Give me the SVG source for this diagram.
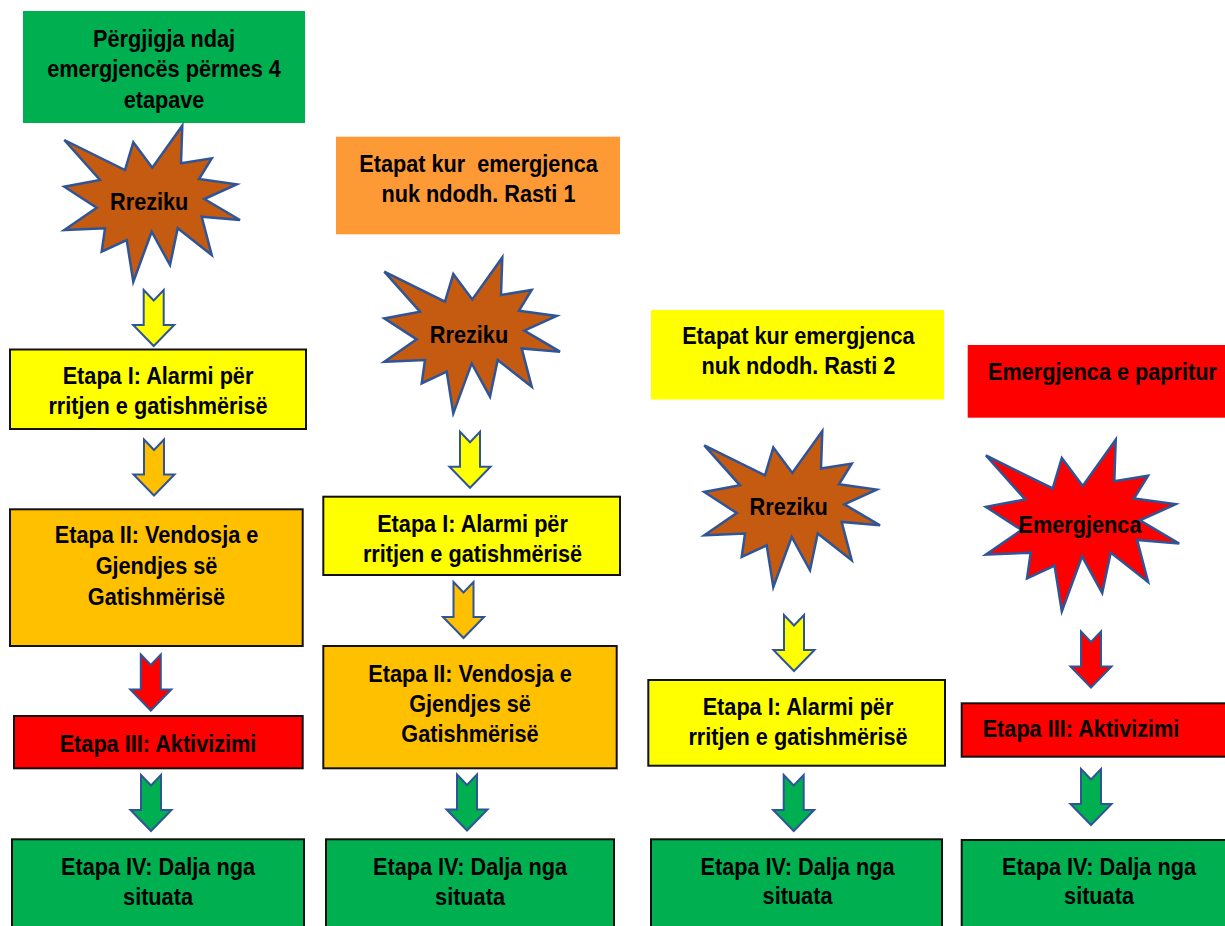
<svg xmlns="http://www.w3.org/2000/svg" xmlns:xlink="http://www.w3.org/1999/xlink" width="1225" height="926" viewBox="0 0 1225 926">
  <style>
    .bg { fill: #ffffff; }
    .box { stroke: #111111; stroke-width: 2; }
    .head { stroke: none; }
    .green { fill: #00B050; }
    .yellow { fill: #FFFF00; }
    .gold { fill: #FFC000; }
    .red { fill: #FF0000; }
    .orange { fill: #FE9A36; }
    .brown { fill: #C55A11; }
    .seal { stroke: #2F5597; stroke-width: 2.5; stroke-linejoin: miter; }
    .arrow { stroke: #2F5597; stroke-width: 2; stroke-linejoin: miter; }
    text { font-family: "Liberation Sans", Arial, sans-serif; font-weight: bold; font-size: 24.5px; fill: #000000; text-anchor: middle; }
  </style>
  <defs>
    <!-- irregular explosion outline, drawn at the first column's position -->
    <path id="burst" d="M182.3,125.7 L181,163.3 L211.7,158.3 L199,179 L236.7,184.3 L204.3,199 L240,220 L201.7,216.7 L211.7,255 L177.7,228.3 L170,265 L151.7,231.7 L133.3,281.7 L126.7,240 L101.7,251.7 L105,228.3 L64.3,230 L96.7,207.7 L64.3,186.7 L100,180 L64.3,140 L125,170 L133.3,142.3 L152.3,167.7 Z"/>
    <!-- notched block arrow pointing down, origin at top centre -->
    <path id="down" d="M-10,0 L0,10.5 L10,0 L10,35 L20.5,35 L0,56 L-20.5,35 L-10,35 Z"/>
  </defs>

  <rect class="bg" x="0" y="0" width="1225" height="926"/>

  <!-- column 1 -->
  <g id="title-4-stages">
    <rect class="green" x="23" y="11" width="282" height="112"/>
    <text transform="translate(164,46.5) scale(0.885,1)"><tspan x="0" dy="0">Përgjigja ndaj</tspan><tspan x="0" dy="31">emergjencës përmes 4</tspan><tspan x="0" dy="31">etapave</tspan></text>
  </g>
  <g id="hazard-1">
    <use xlink:href="#burst" class="seal brown"/>
    <text transform="translate(149.2,210) scale(0.885,1)">Rreziku</text>
  </g>
  <g id="stage1-col1">
    <rect class="box yellow" x="10" y="349.5" width="296" height="79.5"/>
    <text transform="translate(158,384) scale(0.885,1)"><tspan x="0" dy="0">Etapa I: Alarmi për</tspan><tspan x="0" dy="30">rritjen e gatishmërisë</tspan></text>
  </g>
  <g id="stage2-col1">
    <rect class="box gold" x="10" y="509.3" width="292.7" height="136.7"/>
    <text transform="translate(156.5,543.3) scale(0.885,1)"><tspan x="0" dy="0">Etapa II: Vendosja e</tspan><tspan x="0" dy="31">Gjendjes së</tspan><tspan x="0" dy="31">Gatishmërisë</tspan></text>
  </g>
  <g id="stage3-col1">
    <rect class="box red" x="14" y="716" width="288.7" height="52.3"/>
    <text transform="translate(158,751.7) scale(0.885,1)">Etapa III: Aktivizimi</text>
  </g>
  <g id="stage4-col1">
    <rect class="box green" x="12" y="839.3" width="292" height="100"/>
    <text transform="translate(158,875) scale(0.885,1)"><tspan x="0" dy="0">Etapa IV: Dalja nga</tspan><tspan x="0" dy="30">situata</tspan></text>
  </g>

  <!-- column 2 -->
  <g id="title-case-1">
    <rect class="orange" x="336" y="136.7" width="284" height="97.6"/>
    <text transform="translate(478.5,171.7) scale(0.885,1)"><tspan x="0" dy="0" xml:space="preserve">Etapat kur  emergjenca</tspan><tspan x="0" dy="30">nuk ndodh. Rasti 1</tspan></text>
  </g>
  <g id="hazard-2">
    <use xlink:href="#burst" class="seal brown" transform="translate(320,131.7)"/>
    <text transform="translate(469,342.5) scale(0.885,1)">Rreziku</text>
  </g>
  <g id="stage1-col2">
    <rect class="box yellow" x="323.3" y="496.7" width="296.7" height="78.3"/>
    <text transform="translate(472.5,531.7) scale(0.885,1)"><tspan x="0" dy="0">Etapa I: Alarmi për</tspan><tspan x="0" dy="30">rritjen e gatishmërisë</tspan></text>
  </g>
  <g id="stage2-col2">
    <rect class="box gold" x="323.3" y="646" width="293.4" height="122.3"/>
    <text transform="translate(470,681.7) scale(0.885,1)"><tspan x="0" dy="0">Etapa II: Vendosja e</tspan><tspan x="0" dy="30">Gjendjes së</tspan><tspan x="0" dy="30">Gatishmërisë</tspan></text>
  </g>
  <g id="stage4-col2">
    <rect class="box green" x="326" y="839.3" width="288" height="100"/>
    <text transform="translate(470,875) scale(0.885,1)"><tspan x="0" dy="0">Etapa IV: Dalja nga</tspan><tspan x="0" dy="30">situata</tspan></text>
  </g>

  <!-- column 3 -->
  <g id="title-case-2">
    <rect class="yellow" x="651" y="310" width="293" height="89.5"/>
    <text transform="translate(798.4,343.5) scale(0.885,1)"><tspan x="0" dy="0">Etapat kur emergjenca</tspan><tspan x="0" dy="31">nuk ndodh. Rasti 2</tspan></text>
  </g>
  <g id="hazard-3">
    <use xlink:href="#burst" class="seal brown" transform="translate(640,305.3)"/>
    <text transform="translate(788.7,515) scale(0.885,1)">Rreziku</text>
  </g>
  <g id="stage1-col3">
    <rect class="box yellow" x="648.3" y="680" width="296.7" height="85.7"/>
    <text transform="translate(798,715) scale(0.885,1)"><tspan x="0" dy="0">Etapa I: Alarmi për</tspan><tspan x="0" dy="30">rritjen e gatishmërisë</tspan></text>
  </g>
  <g id="stage4-col3">
    <rect class="box green" x="651" y="839.3" width="291" height="100"/>
    <text transform="translate(797.5,875) scale(0.885,1)"><tspan x="0" dy="0">Etapa IV: Dalja nga</tspan><tspan x="0" dy="29.5">situata</tspan></text>
  </g>

  <!-- column 4 -->
  <g id="title-sudden">
    <rect class="red" x="967.7" y="345" width="270" height="72.7"/>
    <text transform="translate(1102.5,380) scale(0.885,1)">Emergjenca e papritur</text>
  </g>
  <g id="emergency">
    <use xlink:href="#burst" class="seal red" transform="translate(915.2,301.5) scale(1.1)" style="stroke-width:2.3"/>
    <text transform="translate(1080,532.7) scale(0.885,1)">Emergjenca</text>
  </g>
  <g id="stage3-col4">
    <rect class="box red" x="961.7" y="703.3" width="280" height="53.4"/>
    <text transform="translate(1081,736.7) scale(0.885,1)">Etapa III: Aktivizimi</text>
  </g>
  <g id="stage4-col4">
    <rect class="box green" x="961.7" y="840" width="280" height="100"/>
    <text transform="translate(1099,875) scale(0.885,1)"><tspan x="0" dy="0">Etapa IV: Dalja nga</tspan><tspan x="0" dy="29.5">situata</tspan></text>
  </g>

  <!-- connectors: block arrows between stages -->
  <g id="connectors">
    <use xlink:href="#down" class="arrow yellow" transform="translate(153.7,290)"/>
    <use xlink:href="#down" class="arrow gold" transform="translate(154,439.5)"/>
    <use xlink:href="#down" class="arrow red" transform="translate(150.8,654.5)"/>
    <use xlink:href="#down" class="arrow green" transform="translate(151,775)"/>

    <use xlink:href="#down" class="arrow yellow" transform="translate(470,431.7)"/>
    <use xlink:href="#down" class="arrow gold" transform="translate(463.5,582)"/>
    <use xlink:href="#down" class="arrow green" transform="translate(467,774.5)"/>

    <use xlink:href="#down" class="arrow yellow" transform="translate(794,615)"/>
    <use xlink:href="#down" class="arrow green" transform="translate(793.7,775)"/>

    <use xlink:href="#down" class="arrow red" transform="translate(1091,631.5)"/>
    <use xlink:href="#down" class="arrow green" transform="translate(1091,769)"/>
  </g>
</svg>
